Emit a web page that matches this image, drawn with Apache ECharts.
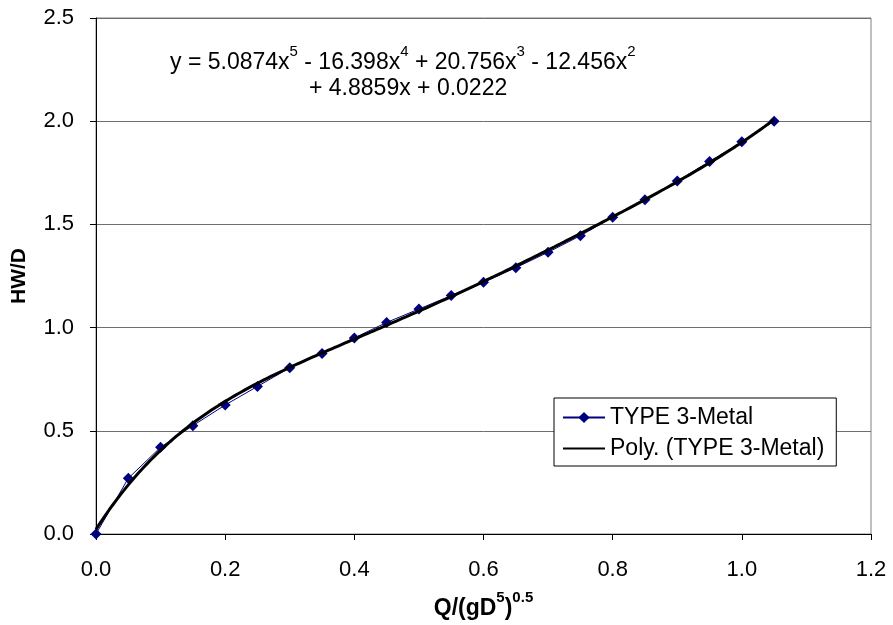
<!DOCTYPE html>
<html>
<head>
<meta charset="utf-8">
<script src="https://cdn.jsdelivr.net/npm/echarts@6/dist/echarts.min.js"></script>
<style>
  html, body { margin: 0; padding: 0; background: #fff; }
  #chart { width: 893px; height: 625px; }
</style>
</head>
<body>
<div id="chart"></div>
<script>
// Measured discharge ratio Q/(gD^5)^0.5 and headwater ratio HW/D
const flowRatio = [0, 0.05, 0.10, 0.15, 0.20, 0.25, 0.30, 0.35, 0.40, 0.45, 0.50,
                   0.55, 0.60, 0.65, 0.70, 0.75, 0.80, 0.85, 0.90, 0.95, 1.00, 1.05];
const headwaterRatio = [0, 0.27, 0.42, 0.525, 0.625, 0.715, 0.805, 0.875, 0.95, 1.025, 1.09,
                        1.155, 1.22, 1.29, 1.365, 1.445, 1.535, 1.62, 1.71, 1.805, 1.90, 2.00];

// 5th-order polynomial trendline coefficients, highest power first
const polyCoefficients = [5.0874, -16.398, 20.756, -12.456, 4.8859, 0.0222];

const seriesName = 'TYPE 3-Metal';
const trendName = 'Poly. (TYPE 3-Metal)';

const xTicks = [0, 0.2, 0.4, 0.6, 0.8, 1.0, 1.2];
const yTicks = [0, 0.5, 1.0, 1.5, 2.0, 2.5];

function evalPoly(c, x) {
  let y = 0;
  for (let i = 0; i < c.length; i++) y = y * x + c[i];
  return y;
}

// Trendline evaluated across the span of the measured data
const trendPoints = [];
const xStart = flowRatio[0], xEnd = flowRatio[flowRatio.length - 1];
const steps = 210;
for (let i = 0; i <= steps; i++) {
  const x = xStart + (xEnd - xStart) * i / steps;
  trendPoints.push([x, evalPoly(polyCoefficients, x)]);
}

const measured = flowRatio.map((x, i) => [x, headwaterRatio[i]]);

const FONT = 'Liberation Sans, Arial, sans-serif';
const chart = echarts.init(document.getElementById('chart'), null, { renderer: 'canvas' });

chart.setOption({
  animation: false,
  backgroundColor: '#ffffff',
  textStyle: { fontFamily: FONT },
  grid: {
    left: 96, top: 18, width: 775, height: 516,
    show: true, borderColor: '#808080', borderWidth: 1, backgroundColor: 'transparent'
  },
  xAxis: {
    type: 'value',
    min: xTicks[0], max: xTicks[xTicks.length - 1], interval: 0.2,
    name: '{b|Q/(gD}{s|5}{b|)}{s|0.5}',
    nameLocation: 'middle',
    nameGap: 56,
    nameTextStyle: {
      rich: {
        b: { fontFamily: FONT, fontWeight: 'bold', fontSize: 23, color: '#000', verticalAlign: 'bottom', lineHeight: 30 },
        s: { fontFamily: FONT, fontWeight: 'bold', fontSize: 15, color: '#000', verticalAlign: 'top', lineHeight: 30, padding: [0, 0, 14, 0] }
      }
    },
    axisLine: { show: true, onZero: false, lineStyle: { color: '#000', width: 1 } },
    axisTick: { show: true, inside: false, length: 6, lineStyle: { color: '#000' } },
    axisLabel: { fontSize: 22, color: '#000', margin: 25, formatter: v => v.toFixed(1) },
    splitLine: { show: false }
  },
  yAxis: {
    type: 'value',
    min: yTicks[0], max: yTicks[yTicks.length - 1], interval: 0.5,
    name: 'HW/D',
    nameLocation: 'middle',
    nameGap: 66,
    nameRotate: 90,
    nameTextStyle: { fontSize: 21, fontWeight: 'bold', color: '#000', fontFamily: FONT },
    axisLine: { show: true, onZero: false, lineStyle: { color: '#000', width: 1 } },
    axisTick: { show: true, inside: false, length: 6, lineStyle: { color: '#000' } },
    axisLabel: { fontSize: 22, color: '#000', margin: 22, formatter: v => v.toFixed(1) },
    splitLine: { show: true, lineStyle: { color: '#6e6e6e', width: 1 } }
  },
  legend: {
    orient: 'vertical',
    left: 554, top: 398,
    padding: [8, 12, 6, 8],
    itemGap: 8,
    itemWidth: 42, itemHeight: 14,
    backgroundColor: '#ffffff',
    borderColor: '#000000', borderWidth: 1, borderRadius: 0,
    textStyle: { fontSize: 23, color: '#000', fontFamily: FONT },
    data: [
      { name: seriesName },
      { name: trendName, itemStyle: { color: 'rgba(0,0,0,0)', borderWidth: 0, opacity: 0 } }
    ]
  },
  series: [
    {
      name: seriesName,
      type: 'line',
      data: measured,
      symbol: 'diamond',
      symbolSize: 11,
      lineStyle: { color: '#000080', width: 1 },
      itemStyle: { color: '#000080' },
      z: 3
    },
    {
      name: trendName,
      type: 'line',
      data: trendPoints,
      symbol: 'none',
      showSymbol: false,
      lineStyle: { color: '#000000', width: 3 },
      itemStyle: { color: '#000000' },
      z: 4
    }
  ],
  graphic: [
    {
      type: 'text',
      left: 170, top: 44,
      z: 10,
      style: {
        text: '{t|y = 5.0874x}{s|5}{t| - 16.398x}{s|4}{t| + 20.756x}{s|3}{t| - 12.456x}{s|2}',
        rich: {
          t: { fontFamily: FONT, fontSize: 23, fill: '#000', verticalAlign: 'bottom', lineHeight: 30 },
          s: { fontFamily: FONT, fontSize: 15, fill: '#000', verticalAlign: 'top', lineHeight: 30, padding: [0, 0, 12, 0] }
        }
      }
    },
    {
      type: 'text',
      left: 309, top: 77,
      z: 10,
      style: {
        text: '+ 4.8859x + 0.0222',
        fontFamily: FONT, fontSize: 23, fill: '#000'
      }
    }
  ]
});
</script>
</body>
</html>
